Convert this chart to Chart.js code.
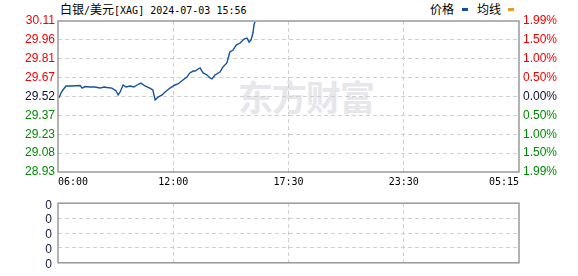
<!DOCTYPE html>
<html><head><meta charset="utf-8">
<script src="https://cdn.jsdelivr.net/npm/chart.js@4"></script>
<style>
html,body{margin:0;padding:0;background:#fff;width:578px;height:276px;overflow:hidden;position:relative}
#title{position:absolute;left:60px;top:2px;line-height:14px;color:#000;white-space:nowrap}
.cjk{font-family:"Noto Sans CJK SC";font-size:12px}
.mono{font-family:"DejaVu Sans Mono";font-size:10px}
.lg{position:absolute;top:2px;line-height:14px;font-family:"Noto Sans CJK SC";font-size:12px;color:#000}
.dash{position:absolute;width:6px;height:3px}
#wm{position:absolute;left:238px;top:70px;font-family:"Noto Sans CJK SC";font-weight:bold;font-size:35px;color:#e6e6eb;letter-spacing:-1px;white-space:nowrap}
canvas{position:absolute;left:0}
#c1{top:0}
#c2{top:190px}
</style></head>
<body>
<div id="wm">东方财富</div>
<div id="title"><span class="cjk">白银</span><span class="mono">/</span><span class="cjk">美元</span><span class="mono">[XAG] 2024-07-03 15:56</span></div>
<div class="lg" style="left:430px">价格</div><div class="dash" style="left:462px;top:8px;background:#1450a0"></div>
<div class="lg" style="left:477px">均线</div><div class="dash" style="left:508px;top:8px;background:#e0a020"></div>
<canvas id="c1" width="578" height="192" style="width:578px;height:192px"></canvas>
<canvas id="c2" width="578" height="86" style="width:578px;height:86px"></canvas>
<script>
// ---- data ----
const times = ['06:03','06:09','06:15','06:24','06:42','07:07','07:13','07:22','07:37','07:52','08:07','08:19','08:28','08:43','08:56','09:02','09:08','09:17','09:26','09:38','09:50','09:59','10:11','10:23','10:38','10:47','10:54','11:03','11:15','11:24','11:39','11:54','12:03','12:18','12:30','12:39','12:49','12:55','13:04','13:10','13:19','13:31','13:40','13:46','13:55','14:10','14:19','14:31','14:40','14:50','14:59','15:11','15:23','15:32','15:38','15:44','15:50','15:53','15:56'];
const prices = [29.51,29.547,29.571,29.602,29.602,29.606,29.586,29.598,29.594,29.594,29.586,29.594,29.590,29.586,29.563,29.532,29.555,29.610,29.594,29.602,29.594,29.610,29.625,29.602,29.586,29.571,29.493,29.516,29.532,29.555,29.586,29.610,29.618,29.649,29.672,29.704,29.719,29.719,29.735,29.743,29.704,29.688,29.665,29.657,29.688,29.711,29.750,29.782,29.868,29.883,29.922,29.938,29.969,29.977,29.946,29.961,30.016,30.079,30.102];
const priceLabels = ['30.11','29.96','29.81','29.67','29.52','29.37','29.23','29.08','28.93'];
const pctLabels = ['1.99%','1.50%','1.00%','0.50%','0.00%','0.50%','1.00%','1.50%','1.99%'];
const timeLabels = ['06:00','12:00','17:30','23:30','05:15'];
const volLabels = ['0','0','0','0','0'];
const yMin = 28.93, yMax = 30.11;
const sessionMinutes = 1395; // 06:00 -> 05:15

// ---- helpers ----
function toMin(t){const [h,m]=t.split(':').map(Number);return ((h*60+m)-360+1440)%1440;}
const pts = times.map((t,i)=>({x:toMin(t),y:prices[i]}));
const xTickVals = timeLabels.map((_,i)=>i*sessionMinutes/(timeLabels.length-1));
const yTickVals = priceLabels.map((_,i)=>yMin+i*(yMax-yMin)/(priceLabels.length-1)); // bottom->top
const RED='#f00000', GREEN='#008a00', MID='#101030';
function colorFor(indexFromBottom, n){const top=n-1-indexFromBottom; const mid=(n-1)/2; return top<mid?RED:(top===mid?MID:GREEN);}
const GRID='#cfcfcf', BORDER='#999999', DASH=[4,3];
const borderPlugin={id:'frame',afterDraw(c){const a=c.chartArea,ctx=c.ctx;ctx.save();ctx.strokeStyle=BORDER;ctx.lineWidth=1.5;ctx.strokeRect(a.left,a.top,a.right-a.left,a.bottom-a.top);ctx.restore();}};
function innerGrid(n){return ctx=>(ctx.index===0||ctx.index===n-1)?'rgba(0,0,0,0)':GRID;}

new Chart(document.getElementById('c1'),{
  type:'line',
  data:{datasets:[{data:pts,borderColor:'#1450a0',borderWidth:1.4,pointRadius:0,tension:0,fill:false,yAxisID:'y'}]},
  options:{
    responsive:false,animation:false,
    layout:{padding:{top:21,left:0,right:0,bottom:0}},
    plugins:{legend:{display:false},tooltip:{enabled:false}},
    scales:{
      x:{type:'linear',min:0,max:sessionMinutes,
        afterBuildTicks:s=>{s.ticks=xTickVals.map(v=>({value:v}));},
        afterFit:s=>{s.height=20;},
        border:{display:false,dash:DASH},
        grid:{color:innerGrid(timeLabels.length),drawTicks:false,lineWidth:1},
        ticks:{align:'inner',maxRotation:0,autoSkip:false,padding:4,color:'#000',font:{family:'DejaVu Sans Mono',size:10},callback:(v,i)=>timeLabels[i]}
      },
      y:{type:'linear',position:'left',min:yMin,max:yMax,
        afterBuildTicks:s=>{s.ticks=yTickVals.map(v=>({value:v}));},
        afterFit:s=>{s.width=58;},
        border:{display:false,dash:DASH},
        grid:{color:innerGrid(priceLabels.length),drawTicks:false},
        ticks:{padding:3,autoSkip:false,font:{family:'Liberation Sans',size:12},
          color:ctx=>colorFor(ctx.index,priceLabels.length),
          callback:(v,i)=>priceLabels[priceLabels.length-1-i]}
      },
      y2:{type:'linear',position:'right',min:yMin,max:yMax,
        afterBuildTicks:s=>{s.ticks=yTickVals.map(v=>({value:v}));},
        afterFit:s=>{s.width=59;},
        border:{display:false},
        grid:{display:false,drawTicks:false},
        ticks:{padding:4,autoSkip:false,font:{family:'Liberation Sans',size:12},
          color:ctx=>colorFor(ctx.index,pctLabels.length),
          callback:(v,i)=>pctLabels[pctLabels.length-1-i]}
      }
    }
  },
  plugins:[borderPlugin]
});

new Chart(document.getElementById('c2'),{
  type:'line',
  data:{datasets:[{data:[],borderWidth:0,pointRadius:0}]},
  options:{
    responsive:false,animation:false,
    layout:{padding:{top:7,left:0,right:59,bottom:6}},
    plugins:{legend:{display:false},tooltip:{enabled:false}},
    scales:{
      x:{type:'linear',min:0,max:sessionMinutes,
        afterBuildTicks:s=>{s.ticks=xTickVals.map(v=>({value:v}));},
        afterFit:s=>{s.height=0;},
        border:{display:false,dash:DASH},
        grid:{color:innerGrid(timeLabels.length),drawTicks:false},
        ticks:{display:false}
      },
      y:{type:'linear',position:'left',min:0,max:volLabels.length-1,
        afterBuildTicks:s=>{s.ticks=volLabels.map((_,i)=>({value:i}));},
        afterFit:s=>{s.width=58;},
        border:{display:false,dash:DASH},
        grid:{color:innerGrid(volLabels.length),drawTicks:false},
        ticks:{padding:6,labelOffset:2,autoSkip:false,color:'#101a40',font:{family:'Liberation Sans',size:12},callback:(v,i)=>volLabels[i]}
      }
    }
  },
  plugins:[borderPlugin]
});
</script>
</body></html>
